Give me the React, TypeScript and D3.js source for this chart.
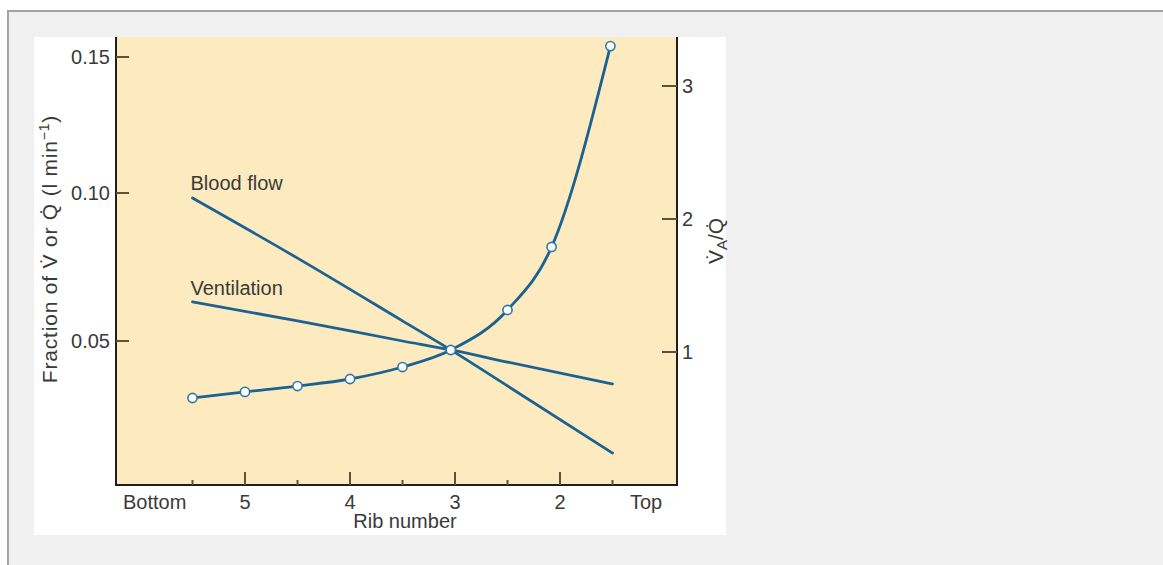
import React from 'react';
import * as d3 from 'd3';

// ---- data ----
const ribMajor = [5, 4, 3, 2];
const ribMinor = [5.5, 4.5, 3.5, 2.5, 1.5];
const ribLabelPos = [5.86, 5, 4, 3, 2, 1.18];
const ribLabels = ['Bottom', '5', '4', '3', '2', 'Top'];
const leftTicks = [0.05, 0.1, 0.15];
const rightTicks = [1, 2, 3];

const vqRib = [5.5, 5, 4.5, 4, 3.5, 3.04, 2.5, 2.08, 1.52];
const vqValues = [0.654, 0.7, 0.744, 0.797, 0.887, 1.015, 1.316, 1.79, 3.3];

const flowRib = [5.5, 4.5, 3.5, 3.04, 2.5, 1.5];
const bloodFlow = [0.0983, 0.078, 0.0568, 0.0469, 0.0344, 0.0111];
const ventilation = [0.0632, 0.0568, 0.05, 0.0469, 0.0427, 0.0351];

// ---- layout ----
const W = 1163, H = 565;
const plot = { left: 116, right: 677, top: 37, bottom: 485 };
const FONT = "'Liberation Sans', Arial, Helvetica, sans-serif";
const TEXT = '#3a3a3a';
const LINE = '#1b6293';
const TICK = '#5e5236';

export default function App() {
  const x = d3.scaleLinear().domain([5, 2]).range([245, 560]);
  const yL = d3.scaleLinear().domain([0, 0.05, 0.1, 0.15]).range([485, 341, 193, 57]);
  const yR = d3.scaleLinear().domain([0, 3]).range([plot.bottom, 86]);

  const lineL = d3.line<[number, number]>()
    .x(d => x(d[0])).y(d => yL(d[1])).curve(d3.curveMonotoneX);
  const lineR = d3.line<[number, number]>()
    .x(d => x(d[0])).y(d => yR(d[1])).curve(d3.curveMonotoneX);

  const bf = flowRib.map((r, i) => [r, bloodFlow[i]] as [number, number]);
  const ve = flowRib.map((r, i) => [r, ventilation[i]] as [number, number]);
  const vq = vqRib.map((r, i) => [r, vqValues[i]] as [number, number]);

  return (
    <svg width={W} height={H} style={{ position: 'absolute', left: 0, top: 0, fontFamily: FONT }}>
      <rect x={0} y={0} width={W} height={H} fill="#ffffff" />
      <rect x={8} y={11} width={W + 10} height={H + 10} fill="#f0f0f0" stroke="#a3a3a3" strokeWidth={2} />
      <rect x={34} y={37} width={692} height={498} fill="#ffffff" />
      <rect x={plot.left} y={plot.top} width={plot.right - plot.left} height={plot.bottom - plot.top} fill="#fdebbf" />

      {/* axes */}
      <g stroke="#1e1e1e" strokeWidth={2} fill="none">
        <line x1={plot.left} x2={plot.left} y1={plot.top} y2={plot.bottom + 1} />
        <line x1={plot.right} x2={plot.right} y1={plot.top} y2={plot.bottom + 1} />
        <line x1={plot.left - 1} x2={plot.right + 1} y1={plot.bottom} y2={plot.bottom} />
      </g>

      {/* ticks */}
      <g stroke={TICK} strokeWidth={2}>
        {ribMajor.map(r => (
          <line key={'M' + r} x1={x(r)} x2={x(r)} y1={plot.bottom} y2={plot.bottom - 13} />
        ))}
        {ribMinor.map(r => (
          <line key={'m' + r} x1={x(r)} x2={x(r)} y1={plot.bottom} y2={plot.bottom - 5} />
        ))}
        {leftTicks.map(t => (
          <line key={'l' + t} x1={plot.left} x2={plot.left + 13} y1={yL(t)} y2={yL(t)} />
        ))}
        {rightTicks.map(t => (
          <line key={'r' + t} x1={plot.right} x2={plot.right - 15} y1={yR(t)} y2={yR(t)} />
        ))}
      </g>

      {/* tick labels */}
      <g fill={TEXT} fontSize={20}>
        {ribLabels.map((l, i) => (
          <text key={l} x={x(ribLabelPos[i])} y={509} textAnchor="middle">{l}</text>
        ))}
        {leftTicks.map(t => (
          <text key={t} x={110} y={yL(t)} dy="0.35em" textAnchor="end">{t.toFixed(2)}</text>
        ))}
        {rightTicks.map(t => (
          <text key={t} x={682} y={yR(t)} dy="0.35em" textAnchor="start">{t}</text>
        ))}
        <text x={405} y={528} textAnchor="middle">Rib number</text>
        <text transform="translate(57,249) rotate(-90)" textAnchor="middle" fontSize={21} letterSpacing={0.8}>
          Fraction of V{'\u0307'} or Q{'\u0307'} (l min<tspan fontSize={14} dy={-8}>{'\u22121'}</tspan><tspan dy={8}>)</tspan>
        </text>
        <text transform="translate(723,241) rotate(-90)" textAnchor="middle" fontSize={21}>
          V{'\u0307'}<tspan fontSize={15} dy={4}>A</tspan><tspan dy={-4}>/Q{'\u0307'}</tspan>
        </text>
      </g>

      {/* series */}
      <g fill="none" stroke={LINE} strokeWidth={2.8} strokeLinecap="round">
        <path d={lineL(bf) || ''} />
        <path d={lineL(ve) || ''} />
        <path d={lineR(vq) || ''} />
      </g>
      <g fill="#ffffff" stroke="#2f78ad" strokeWidth={1.6}>
        {vq.map((d, i) => (
          <circle key={i} cx={x(d[0])} cy={yR(d[1])} r={4.6} />
        ))}
      </g>

      {/* series labels */}
      <g fill={TEXT} fontSize={20}>
        <text x={x(bf[0][0]) - 2} y={yL(bf[0][1]) - 8}>Blood flow</text>
        <text x={x(ve[0][0]) - 2} y={yL(ve[0][1]) - 7}>Ventilation</text>
      </g>
    </svg>
  );
}
